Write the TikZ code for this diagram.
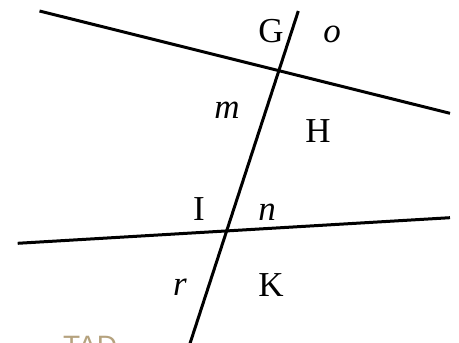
\documentclass[tikz,border=0pt]{standalone}
\usepackage{fontspec}
\setmainfont{Liberation Serif}
\newfontfamily\wmfont{Liberation Sans}
\definecolor{wmtan}{HTML}{B5A27E}
\tikzset{
  lineseg/.style={line width=3pt, black},
  lbl/.style={anchor=base, inner sep=0pt, font=\fontsize{35}{35}\selectfont},
  wm/.style={anchor=base west, inner sep=0pt, text=wmtan, font=\wmfont\fontsize{28}{28}\selectfont}
}
\begin{document}
\begin{tikzpicture}[x=1pt,y=-1pt]
\useasboundingbox (0,0) rectangle (459,343);
\clip (0,0) rectangle (459,343);
% line endpoints
\coordinate (o1) at (39.5,11);
\coordinate (o2) at (450,113.3);
\coordinate (n1) at (17.7,243.3);
\coordinate (n2) at (450,217.7);
\coordinate (t1) at (298.3,11);
\coordinate (t2) at (189.5,345);
\draw[lineseg] (o1) -- (o2);
\draw[lineseg] (n1) -- (n2);
\draw[lineseg] (t1) -- (t2);
% labels
\node[lbl] (G) at (271,42) {G};
\node[lbl] (o) at (332,42) {\itshape o};
\node[lbl] (m) at (227,118) {\itshape m};
\node[lbl] (H) at (318,142.5) {H};
\node[lbl] (I) at (199,220) {I};
\node[lbl] (n) at (267,220) {\itshape n};
\node[lbl] (r) at (180,295) {\itshape r};
\node[lbl] (K) at (271,296) {K};
\node[wm] (tad) at (63,355) {TAD};
\end{tikzpicture}
\end{document}
